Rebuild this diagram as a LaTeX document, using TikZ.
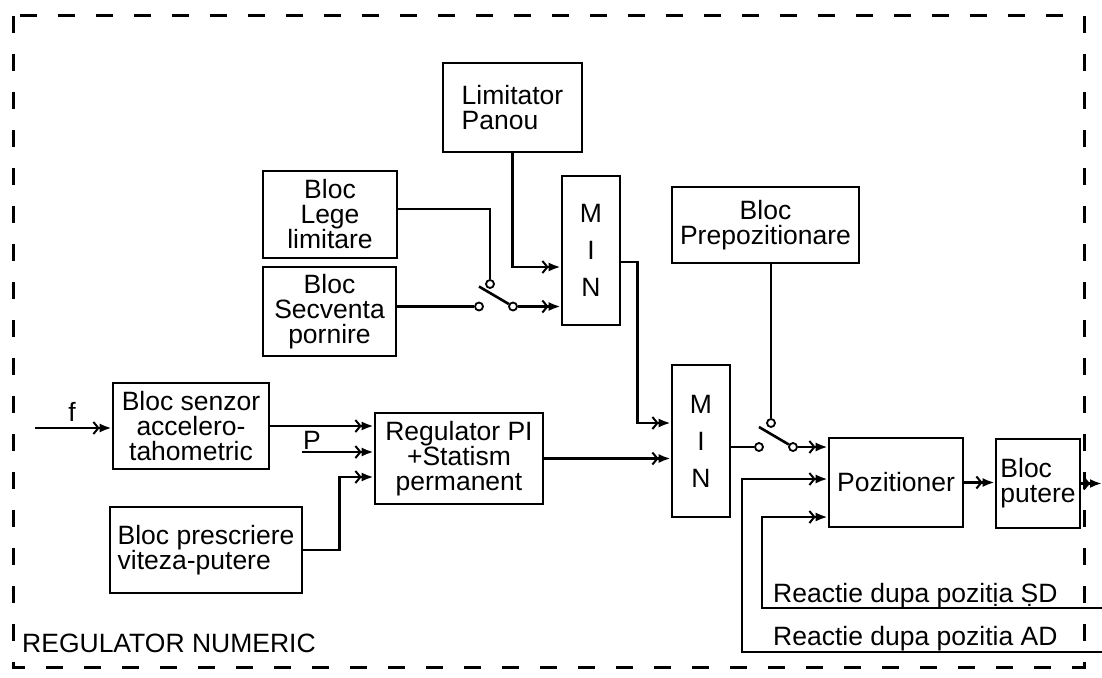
\documentclass[tikz,border=0pt]{standalone}
\usepackage{fontspec}
\setmainfont{Liberation Sans}
\usetikzlibrary{arrows.meta,calc}
\begin{document}
\begin{tikzpicture}[x=1pt,y=-1pt,
  every node/.style={font=\fontsize{26.5}{25}\selectfont},
  blk/.style={draw, line width=2.6pt, inner sep=0pt, align=center},
  arr/.style={line width=2.6pt, -{Straight Barb[length=5pt,width=12pt,line width=2pt] Latex[length=12pt,width=9pt]}},
  wire/.style={line width=2.6pt},
  contact/.style={circle, draw, line width=1.8pt, fill=white, inner sep=0pt, minimum size=8pt},
  frame/.style={line width=3pt, dash pattern=on 17pt off 21pt},
  lbl/.style={inner sep=0pt}
]
\useasboundingbox (0,0) rectangle (1102,677);
\draw[frame] (13,16) rectangle (1084,667);

% blocks
\node[blk, align=left, minimum width=139pt, minimum height=89pt] (lim) at (512.5,107.5) {Limitator\\Panou};
\node[blk, minimum width=134pt, minimum height=87pt] (lege) at (330,214.5) {Bloc\\Lege\\limitare};
\node[blk, minimum width=133pt, minimum height=89pt] (secv) at (329.5,311.5) {Bloc\\Secventa\\pornire};
\node[blk, minimum width=58pt, minimum height=149pt] (min1) at (591,250.5) {M\\[12pt]I\\[12pt]N};
\node[blk, minimum width=187pt, minimum height=76pt] (prep) at (765.5,225) {Bloc\\Prepozitionare};
\node[blk, minimum width=156pt, minimum height=86pt] (senz) at (191,426) {Bloc senzor\\accelero-\\tahometric};
\node[blk, minimum width=168pt, minimum height=91pt] (reg) at (459,458.5) {Regulator PI\\+Statism\\permanent};
\node[blk, align=left, minimum width=192pt, minimum height=86pt] (presc) at (206,550) {Bloc prescriere\\viteza-putere};
\node[blk, minimum width=58pt, minimum height=152pt] (min2) at (701,441) {M\\[12pt]I\\[12pt]N};
\node[blk, minimum width=134pt, minimum height=89pt] (poz) at (896,482.5) {Pozitioner};
\node[blk, align=left, minimum width=84pt, minimum height=89pt] (put) at (1038,483.5) {Bloc\\putere};

% switch contacts
\node[contact] (s1a) at (490,284) {};
\node[contact] (s1b) at (479,306.5) {};
\node[contact] (s1c) at (513,306.5) {};
\node[contact] (s2a) at (771,423) {};
\node[contact] (s2b) at (759,447) {};
\node[contact] (s2c) at (793,447) {};

% connectors
\draw[wire] ([yshift=5.5pt]lege.east) -| (s1a);
\draw[wire] (secv.east |- s1b) -- (s1b);
\draw[wire] (s1c) -- ++(-34,-20);
\draw[arr] (s1c) -- (s1c -| min1.west);
\draw[arr] (lim.south) |- ([yshift=-16.5pt]min1.west);
\draw[arr] ([yshift=-11.5pt]min1.east) -- ++(16,0) |- ([yshift=18pt]min2.west);
\draw[arr] (reg.east) -- (reg.east -| min2.west);
\draw[arr] (senz.east) -- (senz.east -| reg.west);
\coordinate (pin) at (302,452);
\draw[arr] (pin) -- (pin -| reg.west);
\draw[arr] (presc.east) -- ++(36,0) |- ([yshift=-18.5pt]reg.west);
\coordinate (fin) at (35,428);
\draw[arr] (fin) -- (fin -| senz.west);
\draw[wire] ([yshift=-6pt]min2.east) -- (s2b);
\draw[wire] (prep.south -| s2a) -- (s2a);
\draw[wire] (s2c) -- ++(-34,-20);
\draw[arr] (s2c) -- (s2c -| poz.west);
\coordinate (ad) at (1102,652);
\coordinate (sd) at (1102,608);
\draw[arr] (ad) -- ++(-360,0) |- ([yshift=3.5pt]poz.west);
\draw[arr] (sd) -- ++(-340,0) |- ([yshift=-34.5pt]poz.west);
\draw[arr] (poz.east) -- (poz.east -| put.west);
\coordinate (out) at (1102,483.5);
\draw[arr] (put.east) -- (out);

% labels
\node[lbl] (fl) at (72,412) {f};
\node[lbl] (pl) at (312,440) {P};
\node[lbl, anchor=base west] (sdl) at (773,602) {Reactie dupa pozitịa ṢD};
\node[lbl, anchor=base west] (adl) at (773,645) {Reactie dupa pozitia AD};
\node[lbl, anchor=base west] (rn) at (22,652) {REGULATOR NUMERIC};
\end{tikzpicture}
\end{document}
